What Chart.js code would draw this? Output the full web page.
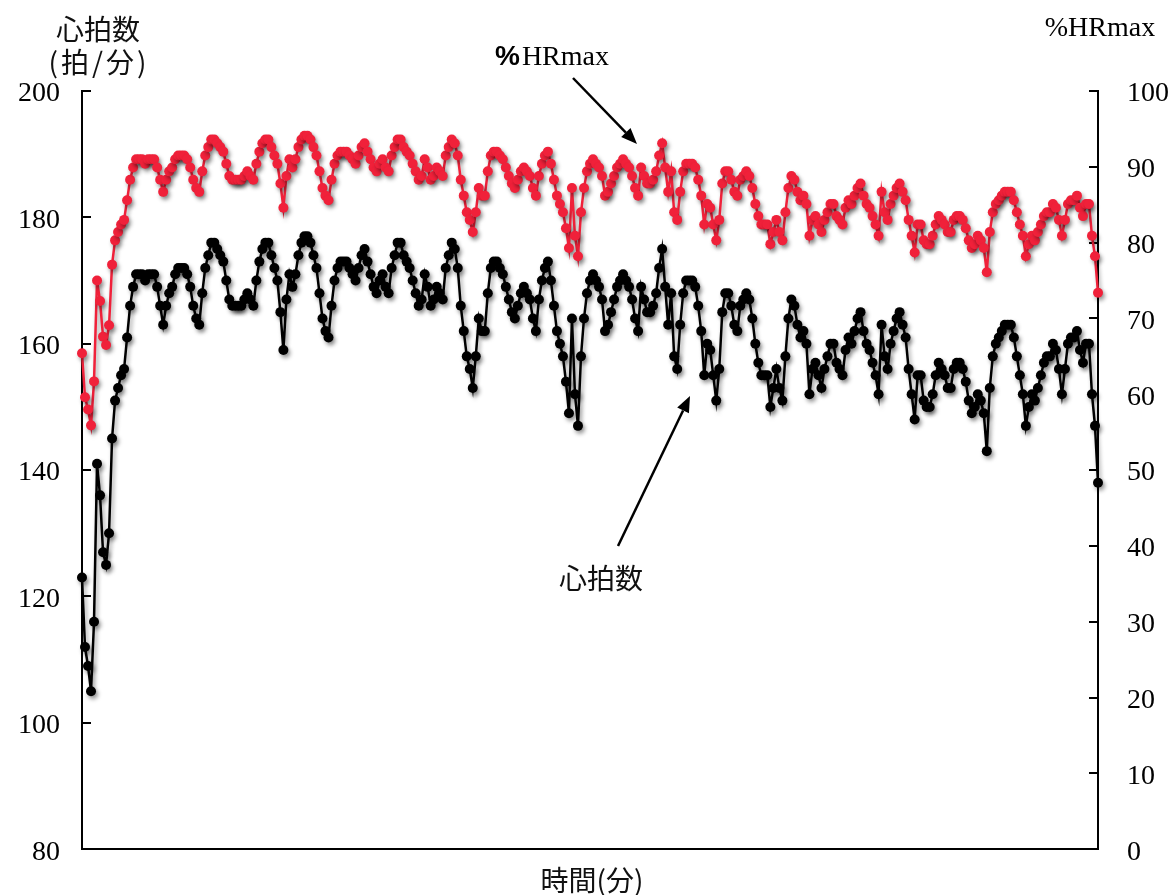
<!DOCTYPE html>
<html lang="ja">
<head>
<meta charset="utf-8">
<title>心拍数と%HRmax</title>
<script src="https://cdn.jsdelivr.net/npm/chart.js@4.4.1/dist/chart.umd.min.js"></script>
<style>
  html, body { margin: 0; padding: 0; background: #fff; }
  #wrap { width: 1172px; height: 895px; }
</style>
</head>
<body>
<div id="wrap"><canvas id="hrChart" width="1172" height="895"></canvas></div>
<script>
// Heart rate (bpm), one value per sample
const heartRate = [
  123,112,109,105,116,141,136,127,125,130,145,151,153,155,156,161,166,169,171,
  171,171,170,171,171,171,169,166,163,166, 168,169,171,172,172,172,171,169,166,164,
  163,168,172,174,176,176,175,174,173,170, 167,166,166,166,166,167,168,167,166,170,
  173,175,176,176,174,172,170,165,159,167, 171,169,171,174,176,177,177,176,174,172,
  168,164,162,161,166,170,
  172,173,173,173,172,171,170,172,174,175, 173,171,169,168,170,171,169,168,172,174,
  176,176,174,173,172,170,168,166,167,171, 169,166,167,169,168,167,172,174,176,175,
  172,166,162,158,156,153,158,164,162,162, 168,172,173,173,172,171,169,167,165,164,
  166,168,169,168,167,164,162,167,
  170,172,173,170,166,162,160,158,154,149, 164,152,147,158,164,168,170,171,170,169,
  167,162,163,165,167,169,170,171,170,169, 167,164,162,169,167,165,165,166,168,172,
  175,169,163,168,158,156,163,168,170,170, 170,169,166,162,155,160,159,155,151,156,
  165,168,168,166,163,162,
  166,167,168,167,164,160,157,155,155,155, 150,153,156,153,151,158,164,167,166,163,
  161,162,160,152,156,157,155,153,156,158, 160,160,157,156,155,159,161,160,162,164,
  165,162,160,159,157,155,152,163,158,156, 160,162,164,165,163,161,156,152,148,155,
  155,151,150,150,152,155,157,
  156,155,153,153,156,157,157,156,154,151, 149,150,152,151,149,143,153,158,160,161,
  162,163,163,163,161,158,155,152,147,150, 152,151,153,155,157,158,158,160,159,156,
  152,156,160,161,161,162,159,157,160,160, 152,147,138
];

// Same samples as percentage of maximum heart rate
const hrMaxPct = [
  65.4,59.6,58.0,55.9,61.7,75.0,72.3,67.6,66.5,69.1,77.1,80.3,81.4,82.4,83.0,85.6,88.3,89.9,91.0,
  91.0,91.0,90.4,91.0,91.0,91.0,89.9,88.3,86.7,88.3, 89.4,89.9,91.0,91.5,91.5,91.5,91.0,89.9,88.3,87.2,
  86.7,89.4,91.5,92.6,93.6,93.6,93.1,92.6,92.0,90.4, 88.8,88.3,88.3,88.3,88.3,88.8,89.4,88.8,88.3,90.4,
  92.0,93.1,93.6,93.6,92.6,91.5,90.4,87.8,84.6,88.8, 91.0,89.9,91.0,92.6,93.6,94.1,94.1,93.6,92.6,91.5,
  89.4,87.2,86.2,85.6,88.3,90.4,
  91.5,92.0,92.0,92.0,91.5,91.0,90.4,91.5,92.6,93.1, 92.0,91.0,89.9,89.4,90.4,91.0,89.9,89.4,91.5,92.6,
  93.6,93.6,92.6,92.0,91.5,90.4,89.4,88.3,88.8,91.0, 89.9,88.3,88.8,89.9,89.4,88.8,91.5,92.6,93.6,93.1,
  91.5,88.3,86.2,84.0,83.0,81.4,84.0,87.2,86.2,86.2, 89.4,91.5,92.0,92.0,91.5,91.0,89.9,88.8,87.8,87.2,
  88.3,89.4,89.9,89.4,88.8,87.2,86.2,88.8,
  90.4,91.5,92.0,90.4,88.3,86.2,85.1,84.0,81.9,79.3, 87.2,80.9,78.2,84.0,87.2,89.4,90.4,91.0,90.4,89.9,
  88.8,86.2,86.7,87.8,88.8,89.9,90.4,91.0,90.4,89.9, 88.8,87.2,86.2,89.9,88.8,87.8,87.8,88.3,89.4,91.5,
  93.1,89.9,86.7,89.4,84.0,83.0,86.7,89.4,90.4,90.4, 90.4,89.9,88.3,86.2,82.4,85.1,84.6,82.4,80.3,83.0,
  87.8,89.4,89.4,88.3,86.7,86.2,
  88.3,88.8,89.4,88.8,87.2,85.1,83.5,82.4,82.4,82.4, 79.8,81.4,83.0,81.4,80.3,84.0,87.2,88.8,88.3,86.7,
  85.6,86.2,85.1,80.9,83.0,83.5,82.4,81.4,83.0,84.0, 85.1,85.1,83.5,83.0,82.4,84.6,85.6,85.1,86.2,87.2,
  87.8,86.2,85.1,84.6,83.5,82.4,80.9,86.7,84.0,83.0, 85.1,86.2,87.2,87.8,86.7,85.6,83.0,80.9,78.7,82.4,
  82.4,80.3,79.8,79.8,80.9,82.4,83.5,
  83.0,82.4,81.4,81.4,83.0,83.5,83.5,83.0,81.9,80.3, 79.3,79.8,80.9,80.3,79.3,76.1,81.4,84.0,85.1,85.6,
  86.2,86.7,86.7,86.7,85.6,84.0,82.4,80.9,78.2,79.8, 80.9,80.3,81.4,82.4,83.5,84.0,84.0,85.1,84.6,83.0,
  80.9,83.0,85.1,85.6,85.6,86.2,84.6,83.5,85.1,85.1, 80.9,78.2,73.4
];

const hrTicks = [80, 100, 120, 140, 160, 180, 200];
const pctTicks = [0, 10, 20, 30, 40, 50, 60, 70, 80, 90, 100];
const samples = heartRate.map((_, i) => i);

const SERIF = "'Liberation Serif', 'Times New Roman', serif";
const JP = "'Noto Sans CJK JP', 'Noto Sans', sans-serif";
const RED = '#f0213a';

Chart.defaults.color = '#000';

function arrow(ctx, x1, y1, x2, y2) {
  const ang = Math.atan2(y2 - y1, x2 - x1);
  const len = 16, half = 6.5;
  const bx = x2 - len * Math.cos(ang), by = y2 - len * Math.sin(ang);
  ctx.beginPath();
  ctx.moveTo(x1, y1);
  ctx.lineTo(bx, by);
  ctx.lineWidth = 2.5;
  ctx.strokeStyle = '#000';
  ctx.stroke();
  ctx.beginPath();
  ctx.moveTo(x2, y2);
  ctx.lineTo(bx + half * Math.sin(ang), by - half * Math.cos(ang));
  ctx.lineTo(bx - half * Math.sin(ang), by + half * Math.cos(ang));
  ctx.closePath();
  ctx.fillStyle = '#000';
  ctx.fill();
}

// inward tick marks + soft shadow under the markers
const markerShadow = {
  id: 'markerShadow',
  beforeDatasetsDraw(chart) {
    const ctx = chart.ctx;
    const {left, right} = chart.chartArea;
    ctx.save();
    ctx.strokeStyle = '#000';
    ctx.lineWidth = 2;
    chart.scales.y.ticks.forEach(t => {
      const y = Math.round(chart.scales.y.getPixelForValue(t.value));
      ctx.beginPath(); ctx.moveTo(left, y); ctx.lineTo(left + 9, y); ctx.stroke();
    });
    chart.scales.y2.ticks.forEach(t => {
      const y = Math.round(chart.scales.y2.getPixelForValue(t.value));
      ctx.beginPath(); ctx.moveTo(right, y); ctx.lineTo(right - 9, y); ctx.stroke();
    });
    ctx.restore();
    ctx.save();
    ctx.shadowColor = 'rgba(0, 0, 0, 0.4)';
    ctx.shadowBlur = 4;
    ctx.shadowOffsetX = 2;
    ctx.shadowOffsetY = 3;
  },
  afterDatasetsDraw(chart) {
    chart.ctx.restore();
  }
};

// axis headings and the two callouts
const labels = {
  id: 'labels',
  afterDraw(chart) {
    const ctx = chart.ctx;
    ctx.save();
    ctx.fillStyle = '#111';
    ctx.textBaseline = 'middle';
    ctx.textAlign = 'center';
    ctx.font = `28px ${JP}`;
    ctx.fillText('心拍数', 98, 29);
    ctx.fillText('心拍数', 601, 578);
    ctx.fillText('時間(分)', 592, 880);
    ctx.letterSpacing = '3px';
    ctx.fillText('(拍/分)', 99, 62);
    ctx.letterSpacing = '0px';

    ctx.fillStyle = '#000';
    ctx.textBaseline = 'alphabetic';
    ctx.font = `28px ${SERIF}`;
    ctx.fillText('%HRmax', 1100, 36);

    ctx.textAlign = 'left';
    ctx.font = `bold 28px 'Liberation Sans', Arial, sans-serif`;
    ctx.fillText('%', 495, 65);
    const w = ctx.measureText('%').width;
    ctx.font = `28px ${SERIF}`;
    ctx.fillText('HRmax', 495 + w + 2, 65);

    arrow(ctx, 573, 78, 637, 144);
    arrow(ctx, 618, 546, 690, 396);
    ctx.restore();
  }
};

new Chart(document.getElementById('hrChart'), {
  type: 'line',
  data: {
    labels: samples,
    datasets: [
      {
        label: '%HRmax',
        data: hrMaxPct,
        yAxisID: 'y2',
        borderColor: RED,
        backgroundColor: RED,
        borderWidth: 2.5,
        pointRadius: 5,
        pointBorderWidth: 0,
        pointBackgroundColor: RED,
        tension: 0,
        clip: false
      },
      {
        label: '心拍数',
        data: heartRate,
        yAxisID: 'y',
        borderColor: '#000',
        backgroundColor: '#000',
        borderWidth: 2.5,
        pointRadius: 5,
        pointBorderWidth: 0,
        pointBackgroundColor: '#000',
        tension: 0,
        clip: false
      }
    ]
  },
  options: {
    responsive: false,
    animation: false,
    devicePixelRatio: 1,
    layout: { padding: { top: 91, left: 0, right: 0, bottom: 0 } },
    plugins: {
      legend: { display: false },
      tooltip: { enabled: false }
    },
    scales: {
      x: {
        type: 'category',
        offset: false,
        grid: { display: false, drawTicks: false },
        ticks: { display: false },
        border: { display: true, color: '#000', width: 2 },
        afterFit: s => { s.height = 41; }
      },
      y: {
        type: 'linear',
        position: 'left',
        min: 80,
        max: 200,
        afterBuildTicks: s => { s.ticks = hrTicks.map(v => ({ value: v })); },
        grid: { display: false, drawTicks: false },
        border: { display: true, color: '#000', width: 2 },
        ticks: { color: '#000', padding: 22, labelOffset: 3, autoSkip: false, font: { family: SERIF, size: 28 } },
        afterFit: s => { s.width = 82; }
      },
      y2: {
        type: 'linear',
        position: 'right',
        min: 0,
        max: 100,
        afterBuildTicks: s => { s.ticks = pctTicks.map(v => ({ value: v })); },
        grid: { display: false, drawTicks: false },
        border: { display: true, color: '#000', width: 2 },
        ticks: { color: '#000', padding: 29, labelOffset: 3, autoSkip: false, font: { family: SERIF, size: 28 } },
        afterFit: s => { s.width = 74; }
      }
    }
  },
  plugins: [markerShadow, labels]
});
</script>
</body>
</html>
